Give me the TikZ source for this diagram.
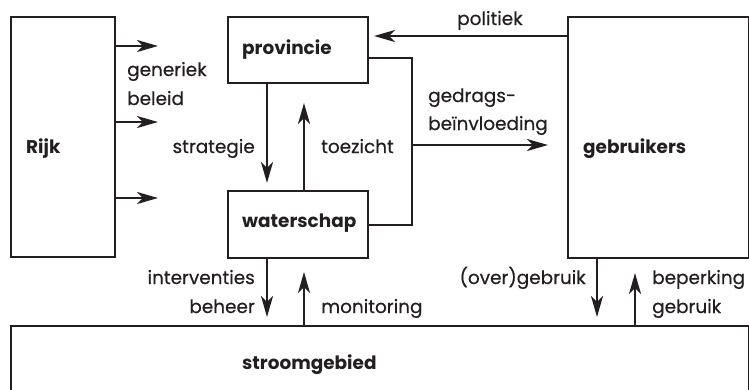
\documentclass[tikz,border=0pt]{standalone}
\usepackage{fontspec}
\setmainfont{Poppins}[UprightFeatures={FakeBold=0.5}]
\usetikzlibrary{arrows.meta}
\definecolor{ink}{HTML}{231F20}
\begin{document}
\begin{tikzpicture}[x=1bp,y=-1bp, color=ink,
  box/.style={draw, line width=2.3bp, inner sep=0pt, anchor=north west},
  link/.style={line width=2.3bp},
  flow/.style={link, -{Stealth[length=21bp,width=12bp,inset=6bp]}},
  lbl/.style={font=\fontsize{18.5}{22}\selectfont, inner sep=0pt},
  ttl/.style={font=\fontsize{18.5}{22}\selectfont\bfseries, inner sep=0pt, anchor=base west}]
\useasboundingbox (0,0) rectangle (749,389);

% actors
\node[box, minimum width=104bp, minimum height=240bp] (rijk) at (10,16) {};
\node[box, minimum width=140bp, minimum height=66bp]  (prov) at (227,16) {};
\node[box, minimum width=140bp, minimum height=67bp]  (wat)  at (227,190) {};
\node[box, minimum width=181bp, minimum height=241bp] (geb)  at (567,16) {};
\node[box, minimum width=738bp, minimum height=80bp]  (stroom) at (10,325) {};

\node[ttl] (rijk-t)   at (26,153)  {Rijk};
\node[ttl] (prov-t)   at (242,54)  {provincie};
\node[ttl] (wat-t)    at (242,227) {waterschap};
\node[ttl] (geb-t)    at (583,153) {gebruikers};
\node[ttl] (stroom-t) at (242,369) {stroomgebied};

% national policy
\coordinate (r1) at (158,46);
\coordinate (r2) at (158,122);
\coordinate (r3) at (158,198);
\draw[flow] (r1 -| rijk.east) -- (r1);
\draw[flow] (r2 -| rijk.east) -- (r2);
\draw[flow] (r3 -| rijk.east) -- (r3);
\node[lbl, anchor=base west] (gen) at (127,76)  {generiek};
\node[lbl, anchor=base west] (bel) at (127,105) {beleid};

% province and water board
\coordinate (s1) at (267,183);
\coordinate (t1) at (304,103);
\draw[flow] (s1 |- prov.south) -- (s1);
\draw[flow] (t1 |- wat.north) -- (t1);
\node[lbl, anchor=base east] (strat) at (255,153) {strategie};
\node[lbl, anchor=base west] (toez)  at (321,153) {toezicht};

% influence on users
\coordinate (pk) at (412,58);
\draw[link] (pk -| prov.east) -- (pk) -- (pk |- wat.east) -- (wat.east);
\coordinate (g1) at (548,145);
\draw[flow] (g1 -| pk) -- (g1);
\node[lbl, anchor=base west] (ged) at (428,102) {gedrags-};
\node[lbl, anchor=base west] (bei) at (428,130) {beïnvloeding};

% politics
\coordinate (p1) at (374,36);
\draw[flow] (p1 -| geb.west) -- (p1);
\node[lbl, anchor=base west] (pol) at (457,25) {politiek};

% river basin
\coordinate (i1) at (267,317);
\coordinate (m1) at (304,272);
\coordinate (o1) at (597,317);
\coordinate (b1) at (635,273);
\draw[flow] (i1 |- wat.south) -- (i1);
\draw[flow] (m1 |- stroom.north) -- (m1);
\draw[flow] (o1 |- geb.south) -- (o1);
\draw[flow] (b1 |- stroom.north) -- (b1);
\node[lbl, anchor=base east] (int) at (255,284) {interventies};
\node[lbl, anchor=base east] (beh) at (255,313) {beheer};
\node[lbl, anchor=base west] (mon) at (321,313) {monitoring};
\node[lbl, anchor=base east] (over) at (586,284) {(over)gebruik};
\node[lbl, anchor=base west] (bep) at (652,284) {beperking};
\node[lbl, anchor=base west] (gebr) at (652,313) {gebruik};
\end{tikzpicture}
\end{document}
